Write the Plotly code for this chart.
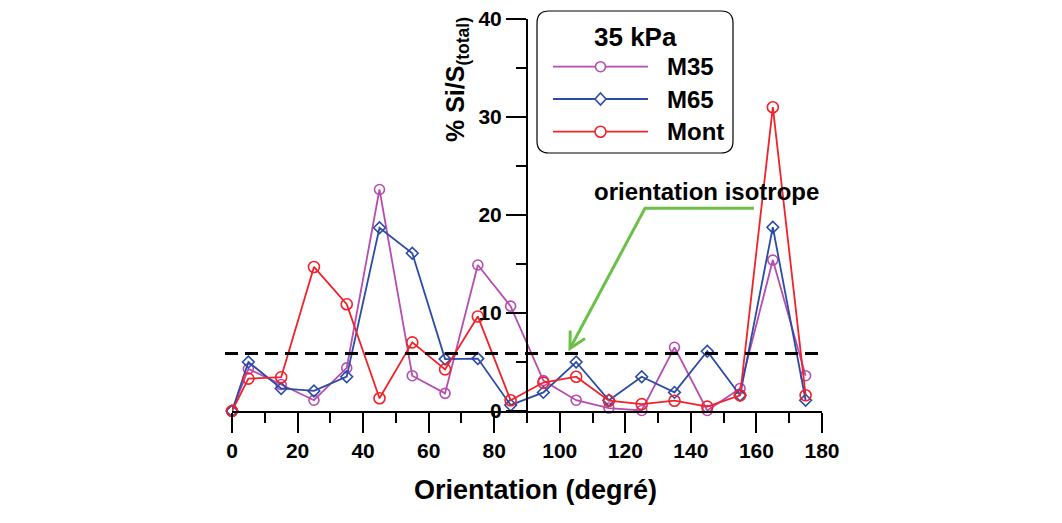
import plotly.graph_objects as go

# ---------------- data ----------------
angles = [0, 5, 15, 25, 35, 45, 55, 65, 75, 85, 95, 105, 115, 125, 135, 145, 155, 165, 175]
m35 = [0, 4.3, 2.7, 1.1, 4.4, 22.6, 3.6, 1.8, 14.9, 10.7, 3.1, 1.1, 0.3, 0.05, 6.5, 0.05, 2.3, 15.4, 3.6]
m65 = [0, 5.0, 2.3, 2.05, 3.5, 18.7, 16.1, 5.3, 5.35, 0.6, 1.9, 5.0, 1.1, 3.5, 1.9, 6.1, 1.6, 18.75, 1.1]
mont = [0, 3.3, 3.45, 14.7, 10.9, 1.3, 7.0, 4.25, 9.65, 1.1, 2.9, 3.5, 1.05, 0.7, 1.05, 0.45, 1.6, 31.0, 1.6]
series_names = ["M35", "M65", "Mont"]
legend_title = "35 kPa"
isotrope_level = 5.88
x_ticks = [0, 20, 40, 60, 80, 100, 120, 140, 160, 180]
y_ticks = [0, 10, 20, 30, 40]

# ---------------- style ----------------
OFF = 8                       # page body margin
PW, PH = 590, 392             # plot area size
SX0, SY0 = 232, 19            # plot area top-left in screenshot
L, T = SX0 - OFF, SY0 - OFF
W, H = 1062 - 2 * OFF, 523 - 2 * OFF
R, B = W - L - PW, H - T - PH
FONT = "Liberation Sans, Arial, sans-serif"
C_M35 = "#B54DB0"
C_M65 = "#2B4BA5"
C_MONT = "#F2222A"
C_GREEN = "#6CC04A"


def px_x(p):
    return (p - SX0) / PW


def px_y(p):
    return (SY0 + PH - p) / PH


fig = go.Figure()
styles = [
    (m35, C_M35, "circle-open", 10),
    (m65, C_M65, "diamond-open", 9),
    (mont, C_MONT, "circle-open", 11),
]
for name, (vals, col, sym, sz) in zip(series_names, styles):
    fig.add_trace(go.Scatter(
        x=angles, y=vals, name=name, mode="lines+markers",
        line=dict(color=col, width=1.8),
        marker=dict(symbol=sym, size=sz, color=col, line=dict(width=1.6, color=col)),
        cliponaxis=False, showlegend=False,
    ))

shapes = []
# dashed isotropic level
shapes.append(dict(type="line", xref="paper", yref="y",
                   x0=px_x(225), x1=px_x(822), y0=isotrope_level, y1=isotrope_level,
                   line=dict(color="black", width=3, dash="13px,7px")))
# green bent arrow
shapes.append(dict(type="path", xref="paper", yref="paper",
                   xsizemode="pixel", ysizemode="pixel",
                   xanchor=px_x(570), yanchor=px_y(348.5),
                   path="M 184,140.2 L 75,140.2 L 0,0",
                   line=dict(color=C_GREEN, width=3)))
shapes.append(dict(type="path", xref="paper", yref="paper",
                   xsizemode="pixel", ysizemode="pixel",
                   xanchor=px_x(570), yanchor=px_y(348.5),
                   path="M 0.2,18 L 0,0 L 15,10",
                   line=dict(color=C_GREEN, width=3)))

# manual legend box (rounded)
bx0, by0, bw, bh, rr = 537, 11, 196, 142, 12
path = (f"M {rr},0 H {bw-rr} Q {bw},0 {bw},{-rr} V {-(bh-rr)} Q {bw},{-bh} {bw-rr},{-bh} "
        f"H {rr} Q 0,{-bh} 0,{-(bh-rr)} V {-rr} Q 0,0 {rr},0 Z")
shapes.append(dict(type="path", xref="paper", yref="paper",
                   xsizemode="pixel", ysizemode="pixel",
                   xanchor=px_x(bx0), yanchor=px_y(by0), path=path,
                   fillcolor="white", line=dict(color="black", width=1.2), layer="above"))

leg_rows = [66.7, 99.0, 131.7]
annotations = []
for name, (vals, col, sym, sz), yy in zip(series_names, styles, leg_rows):
    shapes.append(dict(type="line", xref="paper", yref="paper",
                       x0=px_x(553), x1=px_x(648), y0=px_y(yy), y1=px_y(yy),
                       line=dict(color=col, width=1.8), layer="above"))
    if sym.startswith("circle"):
        rad = 5 if name == "M35" else 5.5
        shapes.append(dict(type="circle", xref="paper", yref="paper",
                           xsizemode="pixel", ysizemode="pixel",
                           xanchor=px_x(600.5), yanchor=px_y(yy),
                           x0=-rad, x1=rad, y0=-rad, y1=rad,
                           fillcolor="white", line=dict(color=col, width=1.6), layer="above"))
    else:
        shapes.append(dict(type="path", xref="paper", yref="paper",
                           xsizemode="pixel", ysizemode="pixel",
                           xanchor=px_x(600.5), yanchor=px_y(yy),
                           path="M 0,6 L 5.5,0 L 0,-6 L -5.5,0 Z",
                           fillcolor="white", line=dict(color=col, width=1.6), layer="above"))
    annotations.append(dict(xref="paper", yref="paper", x=px_x(665), y=px_y(yy),
                            xanchor="left", yanchor="middle", showarrow=False, text=name,
                            font=dict(family=FONT, size=24, color="black", weight="bold")))

annotations.append(dict(xref="paper", yref="paper", x=px_x(635), y=px_y(37),
                        xanchor="center", yanchor="middle", showarrow=False, text=legend_title,
                        font=dict(family=FONT, size=26, color="black", weight="bold")))

annotations.append(dict(xref="paper", yref="paper", x=px_x(706), y=px_y(191),
                        xanchor="center", yanchor="middle", showarrow=False,
                        text="orientation isotrope",
                        font=dict(family=FONT, size=24, color="black", weight="bold")))

# axis titles
annotations.append(dict(xref="paper", yref="paper", x=px_x(535.3), y=px_y(490),
                        xanchor="center", yanchor="middle", showarrow=False,
                        text="Orientation (degré)",
                        font=dict(family=FONT, size=27, color="black", weight="bold")))
annotations.append(dict(xref="paper", yref="paper", x=px_x(457), y=px_y(80),
                        xanchor="center", yanchor="middle", showarrow=False, textangle=-90,
                        text="% Si/S<sub>(total)</sub>",
                        font=dict(family=FONT, size=25, color="black", weight="bold")))

tickfont = dict(family=FONT, size=21, color="black", weight="bold")
fig.update_layout(
    width=W, height=H,
    margin=dict(l=L, r=R, t=T, b=B, pad=0, autoexpand=False),
    paper_bgcolor="white", plot_bgcolor="white",
    showlegend=False,
    xaxis=dict(range=[0, 180], tickvals=x_ticks, ticks="outside", ticklen=20, tickwidth=2,
               tickcolor="black", showline=True, linewidth=2, linecolor="black",
               showgrid=False, zeroline=False, tickfont=tickfont, ticklabeloverflow="allow",
               automargin=False,
               minor=dict(dtick=10, tick0=0, ticks="outside", ticklen=10, tickwidth=2,
                          tickcolor="black", showgrid=False)),
    yaxis=dict(range=[0, 40], tickvals=y_ticks, ticks="outside", ticklen=20, tickwidth=2,
               tickcolor="black", showline=True, linewidth=2, linecolor="black",
               anchor="free", position=0.5, side="left", ticklabeloverflow="allow",
               automargin=False,
               showgrid=False, zeroline=False, tickfont=tickfont,
               minor=dict(dtick=5, tick0=0, ticks="outside", ticklen=10, tickwidth=2,
                          tickcolor="black", showgrid=False)),
    shapes=shapes,
    annotations=annotations,
)

fig.write_html("out.html")
